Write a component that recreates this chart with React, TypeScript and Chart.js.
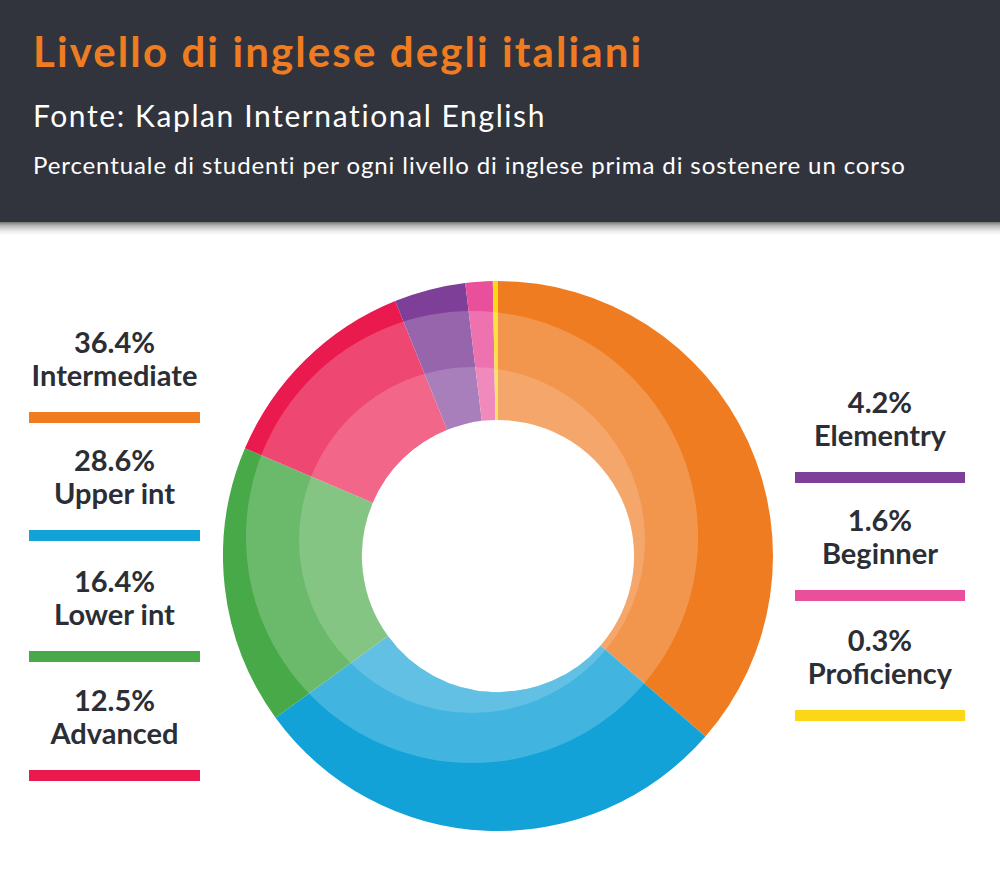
import React, { useEffect, useRef } from "react";
import { Chart, registerables } from "chart.js";

Chart.register(...registerables);

const levels = ["Intermediate", "Upper int", "Lower int", "Advanced", "Elementry", "Beginner", "Proficiency"];
const shares = [36.4, 28.6, 16.4, 12.5, 4.2, 1.6, 0.3];
const shareLabels = ["36.4%", "28.6%", "16.4%", "12.5%", "4.2%", "1.6%", "0.3%"];
const colors = ["#f07c21", "#12a2d8", "#47a948", "#ea1a4f", "#7d3f98", "#e94f9b", "#fcd716"];

const title = "Livello di inglese degli italiani";
const source = "Fonte: Kaplan International English";
const description = "Percentuale di studenti per ogni livello di inglese prima di sostenere un corso";

const shadePlugin = {
  id: "shade",
  afterDatasetsDraw(chart: any) {
    const arc = chart.getDatasetMeta(0).data[0];
    if (!arc) return;
    const { x, y, innerRadius, outerRadius } = arc.getProps(["x", "y", "innerRadius", "outerRadius"], true);
    const R = outerRadius;
    const ctx = chart.ctx;
    ctx.save();
    ctx.beginPath();
    ctx.arc(x, y, outerRadius, 0, Math.PI * 2);
    ctx.arc(x, y, innerRadius, 0, Math.PI * 2, true);
    ctx.clip();
    ctx.fillStyle = "rgba(255,255,255,0.2)";
    ctx.beginPath();
    ctx.arc(x - 0.0945 * R, y - 0.069 * R, 0.822 * R, 0, Math.PI * 2);
    ctx.fill();
    ctx.fillStyle = "rgba(255,255,255,0.17)";
    ctx.beginPath();
    ctx.arc(x - 0.0945 * R, y - 0.058 * R, 0.629 * R, 0, Math.PI * 2);
    ctx.fill();
    ctx.restore();
  },
};

const LATO = "Lato, 'Open Sans', sans-serif";

function Text({ text, x, baseline, size, weight, color, align, spacing }: any) {
  const top = baseline - 0.987 * size;
  const style: any = {
    position: "absolute",
    top,
    fontFamily: LATO,
    fontSize: size,
    fontWeight: weight,
    color,
    lineHeight: "normal",
    whiteSpace: "nowrap",
    letterSpacing: spacing || 0,
  };
  if (align === "center") {
    style.left = x - 200;
    style.width = 400;
    style.textAlign = "center";
  } else {
    style.left = x;
  }
  return <div style={style}>{text}</div>;
}

const leftBars = [412, 530, 651, 770];
const rightBars = [472, 590, 710];

export default function App() {
  const ref = useRef<HTMLCanvasElement>(null);
  useEffect(() => {
    if (!ref.current) return;
    const chart = new Chart(ref.current, {
      type: "doughnut",
      data: {
        labels: levels,
        datasets: [
          {
            data: shares,
            backgroundColor: colors,
            borderWidth: 0,
            hoverOffset: 0,
            offset: 0,
          },
        ],
      },
      options: {
        animation: false,
        responsive: false,
        maintainAspectRatio: false,
        cutout: "49.5%",
        rotation: 0,
        layout: { padding: 0 },
        plugins: { legend: { display: false }, tooltip: { enabled: false }, title: { display: false } },
        events: [],
      },
      plugins: [shadePlugin],
    } as any);
    return () => chart.destroy();
  }, []);

  const entries: any[] = [];
  levels.forEach((lv, i) => {
    const left = i < 4;
    const barTop = left ? leftBars[i] : rightBars[i - 4];
    const cx = left ? 114.5 : 880;
    const barX = left ? 29 : 795;
    const barW = left ? 171 : 170;
    entries.push(
      <React.Fragment key={lv}>
        <Text text={shareLabels[i]} x={cx} baseline={barTop - 59} size={29} weight={700} color="#2b2e35" align="center" />
        <Text text={lv} x={cx} baseline={barTop - 26} size={29} weight={700} color="#2b2e35" align="center" />
        <div style={{ position: "absolute", left: barX, top: barTop, width: barW, height: 11, background: colors[i] }} />
      </React.Fragment>
    );
  });

  return (
    <div style={{ position: "fixed", left: 0, top: 0, width: 1000, height: 881, background: "#ffffff", overflow: "hidden" }}>
      <div style={{ position: "absolute", left: 0, top: 0, width: 1000, height: 222, background: "#31343d" }} />
      <div
        style={{
          position: "absolute",
          left: 0,
          top: 222,
          width: 1000,
          height: 13,
          background: "linear-gradient(rgba(0,0,0,0.55), rgba(0,0,0,0.3) 25%, rgba(0,0,0,0.08) 70%, rgba(0,0,0,0))",
        }}
      />
      <Text text={title} x={33} baseline={67} size={42} weight={700} color="#f07c21" spacing={2.1} />
      <Text text={source} x={33} baseline={127} size={30} weight={400} color="#ffffff" spacing={1.6} />
      <Text text={description} x={33} baseline={174} size={24} weight={400} color="#ffffff" spacing={0.9} />
      {entries}
      <canvas ref={ref} width={550} height={550} style={{ position: "absolute", left: 223, top: 281, width: 550, height: 550 }} />
    </div>
  );
}
